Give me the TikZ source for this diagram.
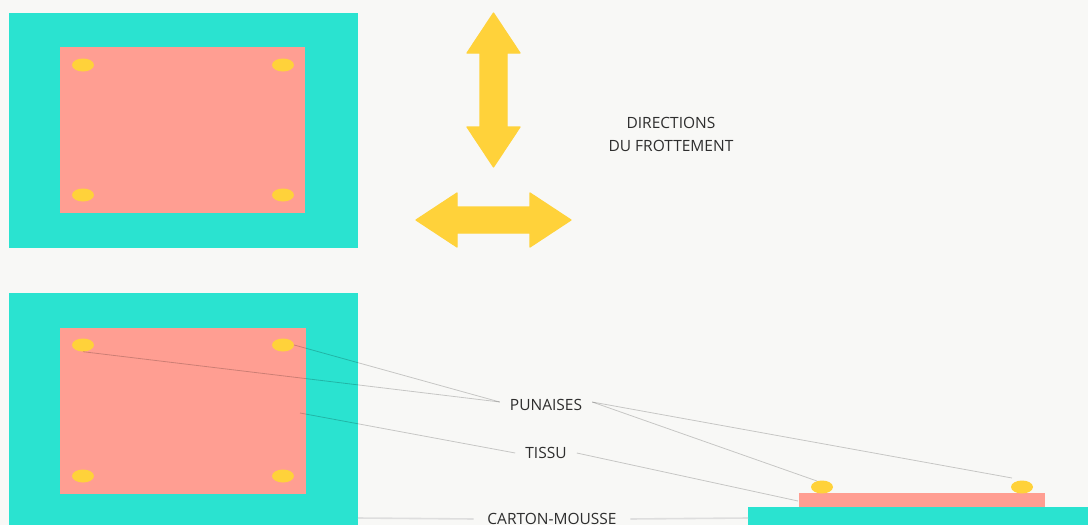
\documentclass[tikz,border=0pt]{standalone}
\usepackage{fontspec}
\setmainfont{Open Sans}
\usetikzlibrary{shapes.geometric,calc}
\definecolor{bgc}{HTML}{F8F8F6}
\definecolor{foam}{HTML}{2AE3D0}
\definecolor{cloth}{HTML}{FF9E92}
\definecolor{pin}{HTML}{FFD23A}
\definecolor{ink}{HTML}{2E2E2E}
\definecolor{guide}{HTML}{DEDEDE}
\tikzset{
  pinhead/.style={ellipse, fill=pin, minimum width=22pt, minimum height=13pt, inner sep=0pt},
  lbl/.style={text=ink, font=\fontsize{15.5}{23}\selectfont, inner xsep=10pt, inner ysep=0pt},
  leader/.style={draw=black, draw opacity=0.2, line width=0.8pt},
  baseline guide/.style={draw=guide, line width=1.6pt},
  bigarrow/.style={fill=pin, draw=pin, line width=1.2pt, line join=round}
}
\begin{document}
\begin{tikzpicture}[x=1pt, y=-1pt]
  \useasboundingbox (0,0) rectangle (1088,525);
  \fill[bgc] (0,0) rectangle (1088,525);

  % upper board seen from above
  \fill[foam] (9,13) rectangle (358,248);
  \fill[cloth] (60,47) rectangle (305,213);
  \node[pinhead] (a1) at (83,65) {};
  \node[pinhead] (a2) at (283,65) {};
  \node[pinhead] (a3) at (83,195) {};
  \node[pinhead] (a4) at (283,195) {};

  % rubbing directions
  \draw[bigarrow] (493.5,13) -- (520,53) -- (507,53) -- (507,127) -- (520,127)
    -- (493.5,167) -- (467,127) -- (480,127) -- (480,53) -- (467,53) -- cycle;
  \draw[bigarrow] (416,220) -- (457,193) -- (457,207) -- (530,207) -- (530,193)
    -- (571,220) -- (530,247) -- (530,233) -- (457,233) -- (457,247) -- cycle;
  \node[lbl, align=center] (dir) at (671,134) {DIRECTIONS\\DU FROTTEMENT};

  % lower board seen from above
  \fill[foam] (9,293) rectangle (358,525);
  \fill[cloth] (60,328) rectangle (306,494);
  \coordinate (tis) at (300,413);
  \coordinate (foamedge) at (358,518);

  % side view
  \fill[foam] (748,507) rectangle (1088,525);
  \fill[cloth] (799,493) rectangle (1045,507);
  \coordinate (sidefoam) at (748,518);
  \coordinate (sidecloth) at (798,501);
  \coordinate (pinend) at (1012,478);

  % labels
  \node[lbl] (pun) at (546,405) {PUNAISES};
  \node[lbl] (tissu) at (546,453) {TISSU};
  \node[lbl, inner xsep=13.5pt] (carton) at (552,519) {CARTON-MOUSSE};

  % leader lines
  \draw[leader] (tissu.west) -- (tis);
  \node[pinhead] (b1) at (83,345) {};
  \node[pinhead] (b2) at (283,345) {};
  \node[pinhead] (b3) at (83,476) {};
  \node[pinhead] (b4) at (283,476) {};
  \node[pinhead] (s1) at (822,487) {};
  \node[pinhead] (s2) at (1022,487) {};
  \draw[leader] (b1.south) -- ($(pun.west)+(0,-3)$);
  \draw[leader] (b2.east) -- ($(pun.west)+(0,-3)$);
  \draw[leader] ($(pun.east)+(0,-3)$) -- (s1.130);
  \draw[leader] ($(pun.east)+(0,-3)$) -- (pinend);
  \draw[leader] (tissu.east) -- (sidecloth);
  \draw[baseline guide] (foamedge) -- (carton.west);
  \draw[baseline guide] (carton.east) -- (sidefoam);
\end{tikzpicture}
\end{document}
